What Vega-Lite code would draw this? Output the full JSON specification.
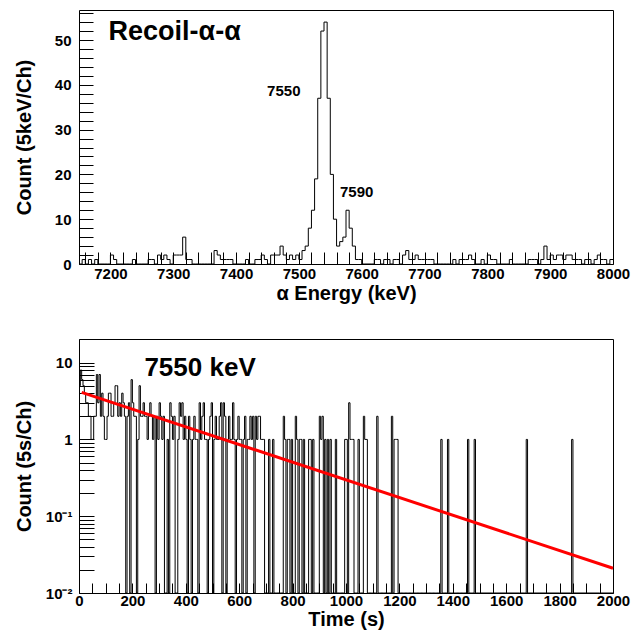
{
  "$schema": "https://vega.github.io/schema/vega-lite/v6.json",
  "padding": {"left": 13, "top": 5, "right": 5, "bottom": 5},
  "background": "white",
  "bounds": "flush",
  "spacing": 75,
  "config": {
    "font": "Liberation Sans",
    "view": {"stroke": "black", "strokeWidth": 1},
    "axis": {
      "labelFont": "Liberation Sans", "labelFontWeight": "bold", "labelFontSize": 15, "labelColor": "black",
      "titleFont": "Liberation Sans", "titleFontWeight": "bold", "titleFontSize": 20, "titleColor": "black",
      "tickColor": "black", "tickWidth": 1, "domain": false, "grid": false,
      "labelOverlap": false, "labelFlush": false, "labelBound": false
    }
  },
  "datasets": {
    "energy": [
      {"E":7150,"n":0},{"E":7155,"n":1},{"E":7160,"n":0},{"E":7165,"n":1},{"E":7170,"n":0},{"E":7175,"n":1},{"E":7180,"n":0},{"E":7185,"n":0},{"E":7190,"n":0},{"E":7195,"n":0},
      {"E":7200,"n":2},{"E":7205,"n":1},{"E":7210,"n":0},{"E":7215,"n":0},{"E":7220,"n":0},{"E":7225,"n":0},{"E":7230,"n":0},{"E":7235,"n":1},{"E":7240,"n":0},{"E":7245,"n":0},
      {"E":7250,"n":0},{"E":7255,"n":0},{"E":7260,"n":1},{"E":7265,"n":1},{"E":7270,"n":0},{"E":7275,"n":2},{"E":7280,"n":1},{"E":7285,"n":2},{"E":7290,"n":1},{"E":7295,"n":0},
      {"E":7300,"n":2},{"E":7305,"n":2},{"E":7310,"n":2},{"E":7315,"n":6},{"E":7320,"n":1},{"E":7325,"n":1},{"E":7330,"n":0},{"E":7335,"n":0},{"E":7340,"n":0},{"E":7345,"n":0},
      {"E":7350,"n":0},{"E":7355,"n":0},{"E":7360,"n":0},{"E":7365,"n":3},{"E":7370,"n":2},{"E":7375,"n":1},{"E":7380,"n":1},{"E":7385,"n":1},{"E":7390,"n":1},{"E":7395,"n":0},
      {"E":7400,"n":0},{"E":7405,"n":0},{"E":7410,"n":0},{"E":7415,"n":1},{"E":7420,"n":0},{"E":7425,"n":0},{"E":7430,"n":1},{"E":7435,"n":1},{"E":7440,"n":2},{"E":7445,"n":1},
      {"E":7450,"n":0},{"E":7455,"n":2},{"E":7460,"n":2},{"E":7465,"n":2},{"E":7470,"n":4},{"E":7475,"n":2},{"E":7480,"n":1},{"E":7485,"n":2},{"E":7490,"n":1},{"E":7495,"n":2},
      {"E":7500,"n":1},{"E":7505,"n":3},{"E":7510,"n":4},{"E":7515,"n":8},{"E":7520,"n":12},{"E":7525,"n":19},{"E":7530,"n":37},{"E":7535,"n":52},{"E":7540,"n":54},{"E":7545,"n":37},
      {"E":7550,"n":20},{"E":7555,"n":10},{"E":7560,"n":4},{"E":7565,"n":5},{"E":7570,"n":6},{"E":7575,"n":12},{"E":7580,"n":8},{"E":7585,"n":4},{"E":7590,"n":1},{"E":7595,"n":1},
      {"E":7600,"n":0},{"E":7605,"n":0},{"E":7610,"n":0},{"E":7615,"n":0},{"E":7620,"n":1},{"E":7625,"n":1},{"E":7630,"n":0},{"E":7635,"n":1},{"E":7640,"n":1},{"E":7645,"n":0},
      {"E":7650,"n":1},{"E":7655,"n":1},{"E":7660,"n":0},{"E":7665,"n":2},{"E":7670,"n":3},{"E":7675,"n":1},{"E":7680,"n":1},{"E":7685,"n":2},{"E":7690,"n":1},{"E":7695,"n":1},
      {"E":7700,"n":1},{"E":7705,"n":1},{"E":7710,"n":1},{"E":7715,"n":0},{"E":7720,"n":0},{"E":7725,"n":0},{"E":7730,"n":0},{"E":7735,"n":0},{"E":7740,"n":0},{"E":7745,"n":1},
      {"E":7750,"n":0},{"E":7755,"n":1},{"E":7760,"n":1},{"E":7765,"n":1},{"E":7770,"n":2},{"E":7775,"n":1},{"E":7780,"n":0},{"E":7785,"n":0},{"E":7790,"n":1},{"E":7795,"n":0},
      {"E":7800,"n":2},{"E":7805,"n":1},{"E":7810,"n":1},{"E":7815,"n":0},{"E":7820,"n":0},{"E":7825,"n":0},{"E":7830,"n":0},{"E":7835,"n":1},{"E":7840,"n":0},{"E":7845,"n":0},
      {"E":7850,"n":0},{"E":7855,"n":0},{"E":7860,"n":0},{"E":7865,"n":1},{"E":7870,"n":1},{"E":7875,"n":1},{"E":7880,"n":0},{"E":7885,"n":1},{"E":7890,"n":4},{"E":7895,"n":1},
      {"E":7900,"n":2},{"E":7905,"n":1},{"E":7910,"n":2},{"E":7915,"n":2},{"E":7920,"n":1},{"E":7925,"n":2},{"E":7930,"n":2},{"E":7935,"n":1},{"E":7940,"n":1},{"E":7945,"n":1},
      {"E":7950,"n":0},{"E":7955,"n":1},{"E":7960,"n":1},{"E":7965,"n":0},{"E":7970,"n":1},{"E":7975,"n":2},{"E":7980,"n":1},{"E":7985,"n":1},{"E":7990,"n":0},{"E":7995,"n":1},
      {"E":8000,"n":1}
    ],
    "time": [
      {"t":0,"n":5},{"t":5,"n":8},{"t":10,"n":6},{"t":15,"n":5},{"t":20,"n":4},{"t":25,"n":3},{"t":30,"n":3},{"t":35,"n":2},{"t":40,"n":2},{"t":45,"n":1},
      {"t":50,"n":1},{"t":55,"n":2},{"t":60,"n":2},{"t":65,"n":7},{"t":70,"n":3},{"t":75,"n":7},{"t":80,"n":2},{"t":85,"n":4},{"t":90,"n":2},{"t":95,"n":1},
      {"t":100,"n":1},{"t":105,"n":2},{"t":110,"n":4},{"t":115,"n":4},{"t":120,"n":2},{"t":125,"n":2},{"t":130,"n":3},{"t":135,"n":5},{"t":140,"n":5},{"t":145,"n":2},
      {"t":150,"n":3},{"t":155,"n":2},{"t":160,"n":4},{"t":165,"n":3},{"t":170,"n":2},{"t":175,"n":0},{"t":180,"n":2},{"t":185,"n":3},{"t":190,"n":0},{"t":195,"n":6},
      {"t":200,"n":3},{"t":205,"n":2},{"t":210,"n":2},{"t":215,"n":0},{"t":220,"n":1},{"t":225,"n":5},{"t":230,"n":2},{"t":235,"n":2},{"t":240,"n":3},{"t":245,"n":2},
      {"t":250,"n":2},{"t":255,"n":1},{"t":260,"n":2},{"t":265,"n":3},{"t":270,"n":2},{"t":275,"n":1},{"t":280,"n":2},{"t":285,"n":0},{"t":290,"n":2},{"t":295,"n":1},
      {"t":300,"n":3},{"t":305,"n":2},{"t":310,"n":1},{"t":315,"n":2},{"t":320,"n":0},{"t":325,"n":0},{"t":330,"n":1},{"t":335,"n":0},{"t":340,"n":3},{"t":345,"n":2},
      {"t":350,"n":1},{"t":355,"n":2},{"t":360,"n":0},{"t":365,"n":0},{"t":370,"n":1},{"t":375,"n":3},{"t":380,"n":2},{"t":385,"n":3},{"t":390,"n":1},{"t":395,"n":2},
      {"t":400,"n":1},{"t":405,"n":0},{"t":410,"n":2},{"t":415,"n":1},{"t":420,"n":0},{"t":425,"n":1},{"t":430,"n":2},{"t":435,"n":1},{"t":440,"n":1},{"t":445,"n":0},
      {"t":450,"n":3},{"t":455,"n":1},{"t":460,"n":2},{"t":465,"n":3},{"t":470,"n":1},{"t":475,"n":1},{"t":480,"n":0},{"t":485,"n":1},{"t":490,"n":2},{"t":495,"n":3},
      {"t":500,"n":0},{"t":505,"n":1},{"t":510,"n":2},{"t":515,"n":1},{"t":520,"n":1},{"t":525,"n":2},{"t":530,"n":3},{"t":535,"n":0},{"t":540,"n":3},{"t":545,"n":2},
      {"t":550,"n":0},{"t":555,"n":1},{"t":560,"n":2},{"t":565,"n":1},{"t":570,"n":1},{"t":575,"n":3},{"t":580,"n":1},{"t":585,"n":0},{"t":590,"n":1},{"t":595,"n":2},
      {"t":600,"n":1},{"t":605,"n":1},{"t":610,"n":0},{"t":615,"n":1},{"t":620,"n":2},{"t":625,"n":0},{"t":630,"n":1},{"t":635,"n":1},{"t":640,"n":2},{"t":645,"n":1},
      {"t":650,"n":2},{"t":655,"n":0},{"t":660,"n":2},{"t":665,"n":1},{"t":670,"n":2},{"t":675,"n":2},{"t":680,"n":1},{"t":685,"n":1},{"t":690,"n":1},{"t":695,"n":0},
      {"t":700,"n":0},{"t":705,"n":0},{"t":710,"n":1},{"t":715,"n":0},{"t":720,"n":0},{"t":725,"n":1},{"t":730,"n":0},{"t":735,"n":0},{"t":740,"n":0},{"t":745,"n":0},
      {"t":750,"n":0},{"t":755,"n":0},{"t":760,"n":0},{"t":765,"n":2},{"t":770,"n":1},{"t":775,"n":0},{"t":780,"n":1},{"t":785,"n":1},{"t":790,"n":0},{"t":795,"n":1},
      {"t":800,"n":0},{"t":805,"n":0},{"t":810,"n":2},{"t":815,"n":1},{"t":820,"n":0},{"t":825,"n":1},{"t":830,"n":1},{"t":835,"n":0},{"t":840,"n":1},{"t":845,"n":0},
      {"t":850,"n":0},{"t":855,"n":0},{"t":860,"n":1},{"t":865,"n":1},{"t":870,"n":0},{"t":875,"n":1},{"t":880,"n":0},{"t":885,"n":0},{"t":890,"n":0},{"t":895,"n":0},
      {"t":900,"n":2},{"t":905,"n":1},{"t":910,"n":2},{"t":915,"n":0},{"t":920,"n":1},{"t":925,"n":0},{"t":930,"n":1},{"t":935,"n":0},{"t":940,"n":1},{"t":945,"n":0},
      {"t":950,"n":0},{"t":955,"n":0},{"t":960,"n":1},{"t":965,"n":0},{"t":970,"n":0},{"t":975,"n":0},{"t":980,"n":0},{"t":985,"n":0},{"t":990,"n":0},{"t":995,"n":1},
      {"t":1000,"n":1},{"t":1005,"n":0},{"t":1010,"n":3},{"t":1015,"n":1},{"t":1020,"n":1},{"t":1025,"n":1},{"t":1030,"n":0},{"t":1035,"n":0},{"t":1040,"n":0},{"t":1045,"n":1},
      {"t":1050,"n":0},{"t":1055,"n":0},{"t":1060,"n":0},{"t":1065,"n":2},{"t":1070,"n":1},{"t":1075,"n":1},{"t":1080,"n":0},{"t":1085,"n":0},{"t":1090,"n":0},{"t":1095,"n":0},
      {"t":1100,"n":0},{"t":1105,"n":0},{"t":1110,"n":0},{"t":1115,"n":2},{"t":1120,"n":0},{"t":1125,"n":0},{"t":1130,"n":0},{"t":1135,"n":0},{"t":1140,"n":0},{"t":1145,"n":0},
      {"t":1150,"n":0},{"t":1155,"n":0},{"t":1160,"n":0},{"t":1165,"n":0},{"t":1170,"n":2},{"t":1175,"n":0},{"t":1180,"n":1},{"t":1185,"n":1},{"t":1190,"n":1},{"t":1195,"n":0},
      {"t":1200,"n":0},{"t":1205,"n":0},{"t":1210,"n":0},{"t":1215,"n":0},{"t":1220,"n":0},{"t":1225,"n":0},{"t":1230,"n":0},{"t":1235,"n":0},{"t":1240,"n":0},{"t":1245,"n":0},
      {"t":1250,"n":0},{"t":1255,"n":0},{"t":1260,"n":0},{"t":1265,"n":0},{"t":1270,"n":0},{"t":1275,"n":0},{"t":1280,"n":0},{"t":1285,"n":0},{"t":1290,"n":0},{"t":1295,"n":0},
      {"t":1300,"n":0},{"t":1305,"n":0},{"t":1310,"n":0},{"t":1315,"n":0},{"t":1320,"n":0},{"t":1325,"n":0},{"t":1330,"n":0},{"t":1335,"n":0},{"t":1340,"n":0},{"t":1345,"n":0},
      {"t":1350,"n":0},{"t":1355,"n":1},{"t":1360,"n":0},{"t":1365,"n":0},{"t":1370,"n":0},{"t":1375,"n":0},{"t":1380,"n":1},{"t":1385,"n":0},{"t":1390,"n":0},{"t":1395,"n":0},
      {"t":1400,"n":0},{"t":1405,"n":0},{"t":1410,"n":0},{"t":1415,"n":0},{"t":1420,"n":0},{"t":1425,"n":0},{"t":1430,"n":0},{"t":1435,"n":0},{"t":1440,"n":0},{"t":1445,"n":0},
      {"t":1450,"n":0},{"t":1455,"n":1},{"t":1460,"n":0},{"t":1465,"n":0},{"t":1470,"n":0},{"t":1475,"n":0},{"t":1480,"n":1},{"t":1485,"n":0},{"t":1490,"n":0},{"t":1495,"n":0},
      {"t":1500,"n":0},{"t":1550,"n":0},{"t":1600,"n":0},{"t":1650,"n":0},{"t":1670,"n":0},{"t":1675,"n":1},{"t":1680,"n":0},{"t":1700,"n":0},{"t":1750,"n":0},{"t":1800,"n":0},
      {"t":1840,"n":0},{"t":1845,"n":1},{"t":1850,"n":0},{"t":1900,"n":0},{"t":1950,"n":0},{"t":2000,"n":0}
    ],
    "fit": [{"t":10,"f":4.1},{"t":2000,"f":0.021}]
  },
  "vconcat": [
    {
      "width": 534,
      "height": 254,
      "layer": [
        {
          "data": {"name": "energy"},
          "mark": {"type": "line", "interpolate": "step-after", "color": "black", "strokeWidth": 1},
          "encoding": {
            "x": {
              "field": "E", "type": "quantitative",
              "scale": {"domain": [7150, 8000], "nice": false, "zero": false},
              "axis": {
                "title": "α Energy (keV)", "format": "d", "labelOverlap": false, "tickCount": 200,
                "values": [7160,7180,7200,7220,7240,7260,7280,7300,7320,7340,7360,7380,7400,7420,7440,7460,7480,7500,7520,7540,7560,7580,7600,7620,7640,7660,7680,7700,7720,7740,7760,7780,7800,7820,7840,7860,7880,7900,7920,7940,7960,7980,8000],
                "labelExpr": "datum.value % 100 === 0 ? datum.label : ''",
                "tickSize": -12, "labelPadding": 14,
                "minExtent": 18, "maxExtent": 18, "titlePadding": 1,
                "encoding": {"ticks": {"y2": {"signal": "datum.value % 100 === 0 ? -12 : -6"}}}
              }
            },
            "y": {
              "field": "n", "type": "quantitative",
              "scale": {"domain": [0, 56.7], "nice": false},
              "axis": {
                "title": "Count (5keV/Ch)", "format": "d", "labelOverlap": false, "tickCount": 200,
                "values": [0,2,4,6,8,10,12,14,16,18,20,22,24,26,28,30,32,34,36,38,40,42,44,46,48,50,52,54,56],
                "labelExpr": "datum.value % 10 === 0 ? datum.label : ''",
                "tickSize": -14, "labelPadding": 22,
                "minExtent": 42, "maxExtent": 42, "titlePadding": 3,
                "encoding": {"ticks": {"x2": {"signal": "datum.value % 10 === 0 ? 14 : 7"}}}
              }
            }
          }
        },
        {
          "data": {"values": [{}]},
          "mark": {"type": "text", "text": "Recoil-α-α", "align": "left", "baseline": "middle", "font": "Liberation Sans", "fontWeight": "bold", "fontSize": 27, "color": "black"},
          "encoding": {"x": {"datum": 7197}, "y": {"datum": 51.7}}
        },
        {
          "data": {"values": [{}]},
          "mark": {"type": "text", "text": "7550", "align": "center", "baseline": "middle", "font": "Liberation Sans", "fontWeight": "bold", "fontSize": 15, "color": "black"},
          "encoding": {"x": {"datum": 7476}, "y": {"datum": 38.6}}
        },
        {
          "data": {"values": [{}]},
          "mark": {"type": "text", "text": "7590", "align": "center", "baseline": "middle", "font": "Liberation Sans", "fontWeight": "bold", "fontSize": 15, "color": "black"},
          "encoding": {"x": {"datum": 7592}, "y": {"datum": 16.1}}
        }
      ]
    },
    {
      "width": 534,
      "height": 254,
      "layer": [
        {
          "data": {"name": "time"},
          "mark": {"type": "line", "interpolate": "step-after", "color": "black", "strokeWidth": 1},
          "encoding": {
            "x": {
              "field": "t", "type": "quantitative",
              "scale": {"domain": [0, 2000], "nice": false, "zero": false},
              "axis": {
                "title": "Time (s)", "format": "d", "labelOverlap": false, "tickCount": 200,
                "values": [0,50,100,150,200,250,300,350,400,450,500,550,600,650,700,750,800,850,900,950,1000,1050,1100,1150,1200,1250,1300,1350,1400,1450,1500,1550,1600,1650,1700,1750,1800,1850,1900,1950,2000],
                "labelExpr": "datum.value % 200 === 0 ? datum.label : ''",
                "tickSize": -10, "labelPadding": 10,
                "minExtent": 15, "maxExtent": 15, "titlePadding": 1,
                "encoding": {"ticks": {"y2": {"signal": "datum.value % 200 === 0 ? -10 : -5"}}}
              }
            },
            "y": {
              "field": "n", "type": "quantitative",
              "scale": {"type": "log", "domain": [0.01, 20.3], "nice": false, "clamp": true},
              "axis": {
                "title": "Count (5s/Ch)", "labelOverlap": false, "tickCount": 200,
                "values": [0.01,0.02,0.03,0.04,0.05,0.06,0.07,0.08,0.09,0.1,0.2,0.3,0.4,0.5,0.6,0.7,0.8,0.9,1,2,3,4,5,6,7,8,9,10,20],
                "labelExpr": "datum.value == 10 ? '10' : datum.value == 1 ? '1' : datum.value == 0.1 ? '10⁻¹' : datum.value == 0.01 ? '10⁻²' : ''",
                "tickSize": -15, "labelPadding": 22,
                "minExtent": 42, "maxExtent": 42, "titlePadding": 3,
                "encoding": {"ticks": {"x2": {"signal": "indexof([0.01,0.1,1,10], datum.value) >= 0 ? 15 : 8"}}}
              }
            }
          }
        },
        {
          "data": {"name": "fit"},
          "mark": {"type": "line", "color": "#ff0000", "strokeWidth": 3},
          "encoding": {
            "x": {"field": "t", "type": "quantitative"},
            "y": {"field": "f", "type": "quantitative"}
          }
        },
        {
          "data": {"values": [{}]},
          "mark": {"type": "text", "text": "7550 keV", "align": "left", "baseline": "middle", "font": "Liberation Sans", "fontWeight": "bold", "fontSize": 26, "color": "black"},
          "encoding": {"x": {"datum": 245}, "y": {"datum": 8.4}}
        }
      ]
    }
  ]
}
